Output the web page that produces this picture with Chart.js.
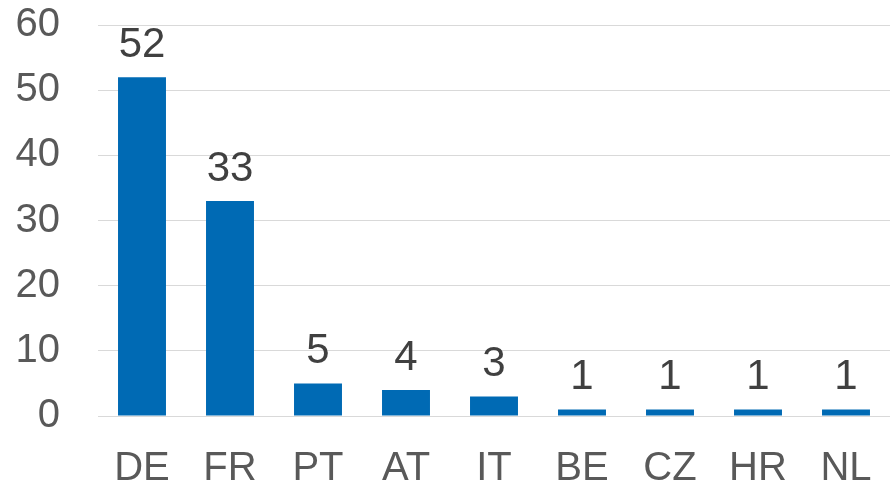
<!DOCTYPE html>
<html>
<head>
<meta charset="utf-8">
<script src="https://cdn.jsdelivr.net/npm/chart.js@4"></script>
<style>
    html, body { margin: 0; padding: 0; background: #fff; }
    #wrap { width: 890px; height: 486px; position: relative; }
</style>
</head>
<body>
<div id="wrap"><canvas id="chart"></canvas></div>
<script>
// Chart data
const countries = ['DE', 'FR', 'PT', 'AT', 'IT', 'BE', 'CZ', 'HR', 'NL'];
const counts = [52, 33, 5, 4, 3, 1, 1, 1, 1];
const yTicks = [0, 10, 20, 30, 40, 50, 60];

const FONT = '"Liberation Sans", Arial, sans-serif';

// Value labels drawn above each bar
const valueLabels = {
    id: 'valueLabels',
    afterDatasetsDraw(chart) {
        const ctx = chart.ctx;
        const meta = chart.getDatasetMeta(0);
        ctx.save();
        ctx.font = '42px ' + FONT;
        ctx.fillStyle = '#404040';
        ctx.textAlign = 'center';
        ctx.textBaseline = 'alphabetic';
        meta.data.forEach((bar, i) => {
            ctx.fillText(String(counts[i]), bar.x, bar.y - 20);
        });
        ctx.restore();
    }
};

new Chart(document.getElementById('chart').getContext('2d'), {
    type: 'bar',
    data: {
        labels: countries,
        datasets: [{
            data: counts,
            backgroundColor: '#006AB4',
            borderWidth: 0,
            categoryPercentage: 1,
            barPercentage: 0.545
        }]
    },
    options: {
        responsive: true,
        maintainAspectRatio: false,
        animation: false,
        layout: { padding: { top: 25, right: 0, bottom: 0, left: 0 } },
        plugins: {
            legend: { display: false },
            tooltip: { enabled: false }
        },
        scales: {
            x: {
                grid: { display: false, drawTicks: false },
                border: { display: true, color: '#D9D9D9', width: 1 },
                ticks: {
                    color: '#595959',
                    font: { family: FONT, size: 40 },
                    padding: 29,
                    maxRotation: 0,
                    autoSkip: false
                },
                afterFit(scale) {
                    scale.height = 70;
                    scale.paddingLeft = 0;
                    scale.paddingRight = 0;
                }
            },
            y: {
                min: 0,
                max: 60,
                afterBuildTicks(scale) {
                    scale.ticks = yTicks.map(v => ({ value: v }));
                },
                grid: { color: '#D9D9D9', lineWidth: 1, drawTicks: false },
                border: { display: false },
                ticks: {
                    color: '#595959',
                    font: { family: FONT, size: 40 },
                    padding: 38
                },
                afterFit(scale) {
                    scale.width = 98;
                    scale.paddingTop = 0;
                    scale.paddingBottom = 0;
                }
            }
        }
    },
    plugins: [valueLabels]
});
</script>
</body>
</html>
